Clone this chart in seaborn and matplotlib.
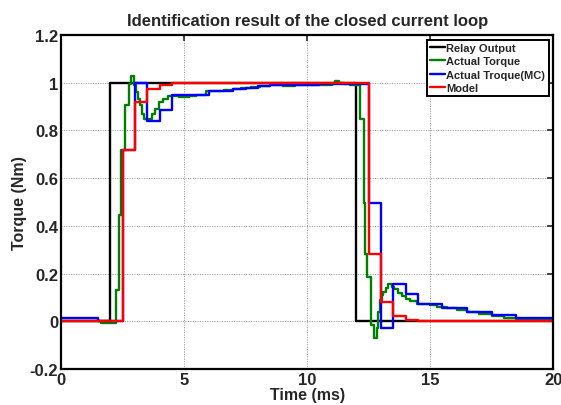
import matplotlib
matplotlib.use("Agg")
import matplotlib.pyplot as plt
import numpy as np
import seaborn as sns

# relay command (ms, Nm)
relay_t = [0.0, 2.0, 12.0, 20.0]
relay_y = [0.0, 1.0, 0.0, 0.0]

# measured torque
torque_t = [0.0, 1.6, 2.24, 2.37, 2.43, 2.6, 2.74, 2.84, 2.97, 3.05,
            3.12, 3.2, 3.28, 3.38, 3.7, 3.82, 3.98, 4.15, 4.36, 4.8,
            5.2, 5.5, 5.9, 6.6, 7.0, 7.3, 7.7, 8.1, 8.5, 9.0,
            9.5, 10.0, 10.5, 11.0, 11.15, 11.3, 11.5, 11.75, 12.15, 12.3,
            12.37, 12.45, 12.58, 12.7, 12.85, 12.9, 12.95, 13.05, 13.1, 13.2,
            13.3, 13.45, 13.55, 13.7, 13.85, 14.0, 14.2, 14.45, 15.0, 15.27,
            15.68, 16.08, 16.49, 17.0, 17.5, 18.0, 18.5, 19.0, 19.5, 20.0]
torque_y = [0.0, -0.006, 0.131, 0.445, 0.72, 0.905, 0.995, 1.03, 0.99, 0.96,
            0.93, 0.905, 0.87, 0.85, 0.87, 0.89, 0.92, 0.93, 0.945, 0.94,
            0.945, 0.95, 0.965, 0.968, 0.972, 0.98, 0.982, 0.985, 0.99, 0.988,
            0.99, 0.992, 0.99, 0.995, 1.007, 0.998, 0.995, 0.99, 0.85, 0.494,
            0.28, 0.187, -0.015, -0.07, -0.03, 0.04, 0.09, 0.11, 0.124, 0.139,
            0.155, 0.145, 0.133, 0.117, 0.105, 0.093, 0.083, 0.071, 0.066, 0.058,
            0.054, 0.049, 0.04, 0.03, 0.02, 0.012, 0.008, 0.01, 0.008, 0.008]

# torque seen by the motor controller
mc_t = [0.0, 1.5, 2.5, 3.0, 3.5, 4.0, 4.5, 6.0, 7.0, 7.5, 8.0, 8.5,
        9.5, 10.5, 11.5, 12.5, 13.0, 13.5, 14.0, 14.5, 15.5, 16.5,
        17.5, 18.5, 20.0]
mc_y = [0.013, 0.0, 0.72, 1.0, 0.84, 0.888, 0.947, 0.966, 0.975, 0.98, 0.985, 0.99,
        0.992, 0.993, 0.995, 0.494, -0.03, 0.155, 0.113, 0.071, 0.054, 0.038,
        0.026, 0.013, 0.013]

# identified model
model_t = [0.0, 2.5, 3.0, 3.5, 4.0, 4.5, 12.5, 13.0, 13.5, 14.0, 14.5, 20.0]
model_y = [0.0, 0.72, 0.92, 0.976, 0.992, 1.0, 0.28, 0.08, 0.022, 0.006, 0.0, 0.0]

series = [
    ("Relay Output", relay_t, relay_y, "#000000"),
    ("Actual Torque", torque_t, torque_y, "#008000"),
    ("Actual Troque(MC)", mc_t, mc_y, "#0000ff"),
    ("Model", model_t, model_y, "#ff0000"),
]

sns.set_style("white")
plt.rcParams["font.family"] = ["Liberation Sans", "DejaVu Sans"]
plt.rcParams["font.weight"] = "bold"

fig = plt.figure(figsize=(5.61, 4.06), dpi=100)
ax = fig.add_axes([0.109, 0.089, 0.877, 0.822])

for name, t, y, color in series:
    sns.lineplot(x=t, y=y, ax=ax, color=color, linewidth=1.7, label=name,
                 drawstyle="steps-post", estimator=None, sort=False)

ax.set_xlim(0, 20)
ax.set_ylim(-0.2, 1.2)
ax.set_xticks([0, 5, 10, 15, 20])
ax.set_yticks(np.arange(-0.2, 1.21, 0.2))
ax.set_yticklabels(["-0.2", "0", "0.2", "0.4", "0.6", "0.8", "1", "1.2"])
ax.grid(True, color="#909090", linestyle=(0, (1, 1.5)), linewidth=0.7)
for s in ax.spines.values():
    s.set_linewidth(1.6)
    s.set_color("black")
ax.tick_params(direction="in", top=True, right=True, length=4, width=1.2,
               labelsize=12, pad=2)

ax.set_title("Identification result of the closed current loop",
             fontsize=12, fontweight="bold", pad=7)
ax.set_xlabel("Time (ms)", fontsize=11.5, fontweight="bold", labelpad=0)
ax.set_ylabel("Torque (Nm)", fontsize=11.5, fontweight="bold", labelpad=2)

leg = ax.legend(loc="upper right", fontsize=8, handlelength=1.3,
                handletextpad=0.15, labelspacing=0.3, borderpad=0.3,
                borderaxespad=0.4, fancybox=False, framealpha=1)
leg.get_frame().set_edgecolor("black")
leg.get_frame().set_linewidth(1.4)
for txt in leg.get_texts():
    txt.set_fontweight("bold")

fig.savefig("out.png", dpi=100)
